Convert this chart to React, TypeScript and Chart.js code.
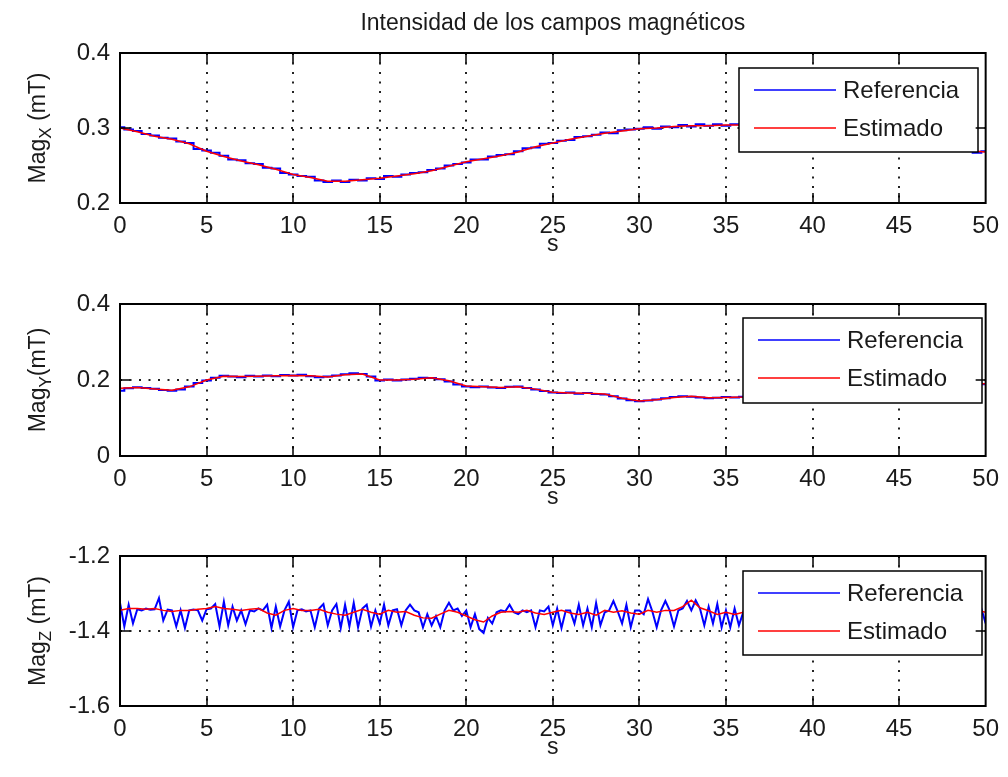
import React, { useEffect, useRef } from "react";
import { Chart, registerables } from "chart.js";

Chart.register(...registerables);

// ---------------- data ----------------
const TITLE = "Intensidad de los campos magnéticos";
const LEGEND_LABELS = ["Referencia", "Estimado"];
const X_LABEL = "s";
const X_TICKS = [0, 5, 10, 15, 20, 25, 30, 35, 40, 45, 50];
const X_TICK_LABELS = ["0", "5", "10", "15", "20", "25", "30", "35", "40", "45", "50"];

const REF_STEP_XY = 0.5; // s between reference samples (X, Y)
const EST_STEP_XY = 1; // s between estimate samples (X, Y)
const REF_STEP_Z = 0.25;
const EST_STEP_Z = 0.5;

const magXTicks = [0.2, 0.3, 0.4];
const magXTickLabels = ["0.2", "0.3", "0.4"];
const magYTicks = [0, 0.2, 0.4];
const magYTickLabels = ["0", "0.2", "0.4"];
const magZTicks = [-1.6, -1.4, -1.2];
const magZTickLabels = ["-1.6", "-1.4", "-1.2"];

const magXRef = [
  0.301, 0.298, 0.296, 0.292, 0.290, 0.287, 0.286, 0.282, 0.280, 0.272,
  0.270, 0.267, 0.263, 0.258, 0.257, 0.253, 0.252, 0.247, 0.246, 0.240,
  0.238, 0.236, 0.235, 0.230, 0.228, 0.230, 0.228, 0.231, 0.230, 0.233,
  0.232, 0.236, 0.235, 0.238, 0.240, 0.241, 0.244, 0.246, 0.250, 0.252,
  0.254, 0.258, 0.258, 0.262, 0.264, 0.265, 0.269, 0.273, 0.274, 0.279,
  0.280, 0.283, 0.284, 0.288, 0.289, 0.291, 0.294, 0.293, 0.297, 0.298,
  0.299, 0.301, 0.299, 0.302, 0.301, 0.304, 0.302, 0.305, 0.303, 0.305,
  0.303, 0.305, 0.304,
  0.304, 0.303, 0.304, 0.302, 0.301, 0.299, 0.298, 0.296, 0.295, 0.293,
  0.292, 0.290, 0.289, 0.287, 0.285, 0.283, 0.282, 0.280, 0.279, 0.278,
  0.276, 0.274, 0.274, 0.272, 0.272,
  0.271, 0.267, 0.269,
];
const magXEst = [
  0.300, 0.295, 0.289, 0.285, 0.279, 0.269, 0.262, 0.256, 0.251, 0.245,
  0.238, 0.234, 0.229, 0.229, 0.231, 0.233, 0.236, 0.239, 0.243, 0.249,
  0.255, 0.259, 0.263, 0.268, 0.275, 0.280, 0.285, 0.289, 0.293, 0.296,
  0.299, 0.300, 0.302, 0.303, 0.303, 0.304, 0.304, 0.303, 0.301, 0.298,
  0.295, 0.292, 0.289, 0.285, 0.282, 0.279, 0.276, 0.274, 0.272, 0.270,
  0.268,
];

const magYRef = [
  0.172, 0.178, 0.181, 0.179, 0.177, 0.174, 0.172, 0.175, 0.183, 0.192,
  0.199, 0.206, 0.211, 0.209, 0.207, 0.211, 0.209, 0.212, 0.210, 0.213,
  0.212, 0.214, 0.210, 0.207, 0.209, 0.212, 0.215, 0.218, 0.216, 0.209,
  0.199, 0.201, 0.199, 0.201, 0.203, 0.206, 0.205, 0.202, 0.196, 0.188,
  0.183, 0.181, 0.183, 0.180, 0.179, 0.182, 0.183, 0.179, 0.175, 0.171,
  0.167, 0.166, 0.167, 0.164, 0.166, 0.163, 0.162, 0.157, 0.151, 0.147,
  0.144, 0.146, 0.149, 0.152, 0.155, 0.157, 0.156, 0.154, 0.152, 0.153,
  0.155, 0.154, 0.156,
  0.156, 0.157, 0.159, 0.161, 0.163, 0.165, 0.167, 0.169, 0.171, 0.173,
  0.175, 0.177, 0.178, 0.180, 0.182, 0.183, 0.184, 0.186, 0.187, 0.188,
  0.188, 0.189, 0.190, 0.190, 0.191,
  0.188, 0.192, 0.189,
];
const magYEst = [
  0.178, 0.180, 0.176, 0.173, 0.182, 0.200, 0.210, 0.209, 0.210, 0.211,
  0.212, 0.211, 0.208, 0.214, 0.216, 0.200, 0.200, 0.202, 0.206, 0.198,
  0.184, 0.182, 0.180, 0.182, 0.176, 0.168, 0.166, 0.165, 0.163, 0.152,
  0.145, 0.148, 0.154, 0.157, 0.153, 0.154, 0.155, 0.158, 0.162, 0.166,
  0.170, 0.174, 0.178, 0.181, 0.184, 0.186, 0.188, 0.189, 0.190, 0.190,
  0.190,
];

const magZRef = [
  -1.325, -1.388, -1.330, -1.380,
  -1.342, -1.345, -1.340, -1.343,
  -1.342, -1.312, -1.372, -1.343,
  -1.345, -1.388, -1.345, -1.392,
  -1.345, -1.343, -1.345, -1.372,
  -1.342, -1.340, -1.328, -1.388,
  -1.322, -1.385, -1.335, -1.372,
  -1.345, -1.382, -1.345, -1.348,
  -1.340, -1.345, -1.330, -1.392,
  -1.335, -1.388, -1.345, -1.322,
  -1.390, -1.345, -1.342, -1.348,
  -1.345, -1.390, -1.340, -1.328,
  -1.385, -1.345, -1.328, -1.392,
  -1.330, -1.388, -1.325, -1.390,
  -1.340, -1.330, -1.388, -1.345,
  -1.380, -1.330, -1.385, -1.345,
  -1.342, -1.385, -1.345, -1.330,
  -1.345, -1.350, -1.390, -1.355,
  -1.385, -1.360, -1.390, -1.345,
  -1.325, -1.345, -1.340, -1.360,
  -1.345, -1.390, -1.355, -1.395,
  -1.405, -1.365, -1.380, -1.350,
  -1.345, -1.348, -1.330, -1.350,
  -1.355, -1.345, -1.350, -1.345,
  -1.390, -1.345, -1.348, -1.335,
  -1.385, -1.340, -1.392, -1.345,
  -1.345, -1.380, -1.330, -1.385,
  -1.340, -1.390, -1.325, -1.385,
  -1.350, -1.345, -1.320, -1.348,
  -1.380, -1.330, -1.390, -1.345,
  -1.345, -1.355, -1.315, -1.348,
  -1.390, -1.345, -1.320, -1.345,
  -1.388, -1.345, -1.340, -1.320,
  -1.345, -1.318, -1.340, -1.385,
  -1.335, -1.380, -1.328, -1.390,
  -1.345, -1.390, -1.340, -1.385,
  -1.350, -1.380, -1.335, -1.345,
  -1.385, -1.340, -1.330, -1.380,
  -1.345, -1.390, -1.340, -1.335,
  -1.380, -1.345, -1.325, -1.385,
  -1.340, -1.350, -1.385, -1.340,
  -1.330, -1.380, -1.345, -1.390,
  -1.340, -1.335, -1.385, -1.345,
  -1.380, -1.340, -1.330, -1.385,
  -1.345, -1.390, -1.340, -1.335,
  -1.385, -1.345, -1.330, -1.380,
  -1.340, -1.385, -1.345, -1.335,
  -1.390, -1.340, -1.330, -1.385,
  -1.345, -1.335, -1.380, -1.340,
  -1.360, -1.330, -1.385, -1.340,
  -1.380,
];
const magZEst = [
  -1.345, -1.340, -1.340, -1.342, -1.340, -1.345, -1.348, -1.345, -1.345, -1.342,
  -1.340, -1.335, -1.340, -1.342, -1.345, -1.342, -1.340, -1.352, -1.358, -1.345,
  -1.340, -1.345, -1.345, -1.342, -1.350, -1.355, -1.358, -1.350, -1.342, -1.350,
  -1.355, -1.345, -1.350, -1.348, -1.358, -1.365, -1.366, -1.355, -1.345, -1.350,
  -1.360, -1.370, -1.376, -1.360, -1.350, -1.348, -1.350, -1.345, -1.352, -1.356,
  -1.350, -1.345, -1.352, -1.356, -1.350, -1.358, -1.345, -1.350, -1.346, -1.352,
  -1.355, -1.345, -1.350, -1.345, -1.345, -1.335, -1.318, -1.338, -1.346, -1.356,
  -1.350, -1.356, -1.350, -1.352, -1.348, -1.350, -1.352, -1.348, -1.350, -1.346,
  -1.350, -1.352, -1.348, -1.350, -1.352, -1.348, -1.350, -1.346, -1.350, -1.352,
  -1.348, -1.350, -1.352, -1.348, -1.350, -1.346, -1.350, -1.352, -1.350, -1.345,
  -1.350,
];

// ---------------- styling / layout ----------------
const FONT = "'Liberation Sans', Arial, Helvetica, sans-serif";
const BLUE = "#0000ff";
const RED = "#ff0000";
const TEXT = "#1a1a1a";
const AREA_LEFT = 120;
const AREA_RIGHT = 991;
const W = 1008;

type Panel = {
  top: number;
  height: number;
  areaTop: number;
  areaBottom: number;
  yTicks: number[];
  yTickLabels: string[];
  sub: string;
  after: string;
  ref: number[];
  est: number[];
  refStep: number;
  estStep: number;
  stepped: boolean;
  legend: { x: number; y: number; w: number; h: number };
  title: boolean;
};

const PANELS: Panel[] = [
  {
    top: 0, height: 253, areaTop: 53, areaBottom: 203,
    yTicks: magXTicks, yTickLabels: magXTickLabels, sub: "X", after: " (mT)",
    ref: magXRef, est: magXEst, refStep: REF_STEP_XY, estStep: EST_STEP_XY, stepped: true,
    legend: { x: 739, y: 68, w: 239, h: 84 }, title: true,
  },
  {
    top: 253, height: 252, areaTop: 51, areaBottom: 203,
    yTicks: magYTicks, yTickLabels: magYTickLabels, sub: "Y", after: "(mT)",
    ref: magYRef, est: magYEst, refStep: REF_STEP_XY, estStep: EST_STEP_XY, stepped: true,
    legend: { x: 743, y: 65, w: 239, h: 85 }, title: false,
  },
  {
    top: 505, height: 272, areaTop: 51, areaBottom: 201,
    yTicks: magZTicks, yTickLabels: magZTickLabels, sub: "Z", after: " (mT)",
    ref: magZRef, est: magZEst, refStep: REF_STEP_Z, estStep: EST_STEP_Z, stepped: false,
    legend: { x: 743, y: 66, w: 239, h: 84 }, title: false,
  },
];

function matlabPlugin(p: Panel) {
  return {
    id: "matlabLook",
    beforeDatasetsDraw(chart: any) {
      const { ctx, chartArea: a, scales } = chart;
      const xs = scales.x;
      const ys = scales.y;
      ctx.save();
      ctx.strokeStyle = "#222";
      ctx.lineWidth = 2;
      ctx.setLineDash([2, 7.5]);
      xs.ticks.forEach((t: any) => {
        if (t.value <= xs.min || t.value >= xs.max) return;
        const px = Math.round(xs.getPixelForValue(t.value));
        ctx.beginPath();
        ctx.moveTo(px, a.top);
        ctx.lineTo(px, a.bottom);
        ctx.stroke();
      });
      ys.ticks.forEach((t: any) => {
        if (t.value <= ys.min || t.value >= ys.max) return;
        const py = Math.round(ys.getPixelForValue(t.value));
        ctx.beginPath();
        ctx.moveTo(a.left, py);
        ctx.lineTo(a.right, py);
        ctx.stroke();
      });
      ctx.restore();
    },
    afterDraw(chart: any) {
      const { ctx, chartArea: a, scales } = chart;
      const xs = scales.x;
      const ys = scales.y;
      ctx.save();
      // legend
      const L = p.legend;
      ctx.fillStyle = "#fff";
      ctx.fillRect(L.x, L.y, L.w, L.h);
      ctx.strokeStyle = "#000";
      ctx.lineWidth = 1.5;
      ctx.strokeRect(L.x, L.y, L.w, L.h);
      const rows = [L.y + 22, L.y + 60];
      const cols = [BLUE, RED];
      ctx.font = `24px ${FONT}`;
      ctx.textBaseline = "middle";
      ctx.textAlign = "left";
      rows.forEach((ry, i) => {
        ctx.strokeStyle = cols[i];
        ctx.lineWidth = 1.5;
        ctx.beginPath();
        ctx.moveTo(L.x + 15, ry);
        ctx.lineTo(L.x + 97, ry);
        ctx.stroke();
        ctx.fillStyle = TEXT;
        ctx.fillText(LEGEND_LABELS[i], L.x + 104, ry + 1);
      });
      // box
      ctx.strokeStyle = "#000";
      ctx.lineWidth = 2;
      ctx.strokeRect(a.left, a.top, a.right - a.left, a.bottom - a.top);
      // inner tick marks
      ctx.lineWidth = 1.5;
      const TL = 10;
      xs.ticks.forEach((t: any) => {
        if (t.value <= xs.min || t.value >= xs.max) return;
        const px = Math.round(xs.getPixelForValue(t.value));
        ctx.beginPath();
        ctx.moveTo(px, a.bottom);
        ctx.lineTo(px, a.bottom - TL);
        ctx.moveTo(px, a.top);
        ctx.lineTo(px, a.top + TL);
        ctx.stroke();
      });
      ys.ticks.forEach((t: any) => {
        if (t.value <= ys.min || t.value >= ys.max) return;
        const py = Math.round(ys.getPixelForValue(t.value));
        ctx.beginPath();
        ctx.moveTo(a.left, py);
        ctx.lineTo(a.left + TL, py);
        ctx.moveTo(a.right, py);
        ctx.lineTo(a.right - TL, py);
        ctx.stroke();
      });
      // x label
      ctx.fillStyle = TEXT;
      ctx.font = `23px ${FONT}`;
      ctx.textAlign = "center";
      ctx.textBaseline = "middle";
      ctx.fillText(X_LABEL, (a.left + a.right) / 2, a.bottom + 42);
      // title
      if (p.title) {
        ctx.fillText(TITLE, (a.left + a.right) / 2, 24);
      }
      // y label with subscript
      const midY = (a.top + a.bottom) / 2;
      ctx.translate(37, midY);
      ctx.rotate(-Math.PI / 2);
      const mainFont = `23px ${FONT}`;
      const subFont = `17px ${FONT}`;
      ctx.font = mainFont;
      const w1 = ctx.measureText("Mag").width;
      const w3 = ctx.measureText(p.after).width;
      ctx.font = subFont;
      const w2 = ctx.measureText(p.sub).width;
      let cx = -(w1 + w2 + w3) / 2;
      ctx.textAlign = "left";
      ctx.textBaseline = "alphabetic";
      const base = 8;
      ctx.font = mainFont;
      ctx.fillText("Mag", cx, base);
      cx += w1;
      ctx.font = subFont;
      ctx.fillText(p.sub, cx, base + 6);
      cx += w2;
      ctx.font = mainFont;
      ctx.fillText(p.after, cx, base);
      ctx.restore();
    },
  };
}

function PanelChart({ p }: { p: Panel }) {
  const ref = useRef<HTMLCanvasElement>(null);
  useEffect(() => {
    const canvas = ref.current;
    if (!canvas) return;
    const tickFont = { family: FONT, size: 24 };
    const yMin = p.yTicks[0];
    const yMax = p.yTicks[p.yTicks.length - 1];
    const chart = new Chart(canvas, {
      type: "line",
      data: {
        datasets: [
          {
            label: LEGEND_LABELS[1],
            data: p.est.map((v, i) => ({ x: i * p.estStep, y: v })),
            borderColor: RED,
            backgroundColor: RED,
            borderWidth: 1.5,
            pointRadius: 0,
            tension: 0,
            fill: false,
          },
          {
            label: LEGEND_LABELS[0],
            data: p.ref.map((v, i) => ({ x: i * p.refStep, y: v })),
            borderColor: BLUE,
            backgroundColor: BLUE,
            borderWidth: 2,
            pointRadius: 0,
            stepped: p.stepped ? "middle" : false,
            tension: 0,
            fill: false,
          },
        ],
      },
      options: {
        animation: false,
        responsive: false,
        devicePixelRatio: 1,
        layout: { padding: { left: 0, right: W - AREA_RIGHT, top: p.areaTop, bottom: 0 } },
        plugins: {
          legend: { display: false },
          tooltip: { enabled: false },
          title: { display: false },
        },
        scales: {
          x: {
            type: "linear",
            min: 0,
            max: 50,
            afterBuildTicks: (s: any) => {
              s.ticks = X_TICKS.map((v) => ({ value: v }));
            },
            afterFit: (s: any) => {
              s.height = p.height - p.areaBottom;
            },
            grid: { display: false, drawTicks: false },
            border: { display: false },
            ticks: {
              font: tickFont,
              color: TEXT,
              padding: 9,
              maxRotation: 0,
              autoSkip: false,
              callback: (v: any) => {
                const i = X_TICKS.indexOf(Number(v));
                return i >= 0 ? X_TICK_LABELS[i] : "";
              },
            },
          },
          y: {
            type: "linear",
            min: yMin,
            max: yMax,
            afterBuildTicks: (s: any) => {
              s.ticks = p.yTicks.map((v) => ({ value: v }));
            },
            afterFit: (s: any) => {
              s.width = AREA_LEFT;
            },
            grid: { display: false, drawTicks: false },
            border: { display: false },
            ticks: {
              font: tickFont,
              color: TEXT,
              padding: 10,
              autoSkip: false,
              callback: (v: any) => {
                const i = p.yTicks.findIndex((t) => Math.abs(t - Number(v)) < 1e-9);
                return i >= 0 ? p.yTickLabels[i] : "";
              },
            },
          },
        },
      } as any,
      plugins: [matlabPlugin(p)],
    });
    return () => chart.destroy();
  }, [p]);
  return (
    <canvas
      ref={ref}
      width={W}
      height={p.height}
      style={{ position: "absolute", left: 0, top: p.top, display: "block" }}
    />
  );
}

export default function App() {
  return (
    <div
      style={{
        position: "absolute",
        left: 0,
        top: 0,
        width: W,
        height: 777,
        background: "#fff",
        overflow: "hidden",
      }}
    >
      {PANELS.map((p, i) => (
        <PanelChart key={i} p={p} />
      ))}
    </div>
  );
}
